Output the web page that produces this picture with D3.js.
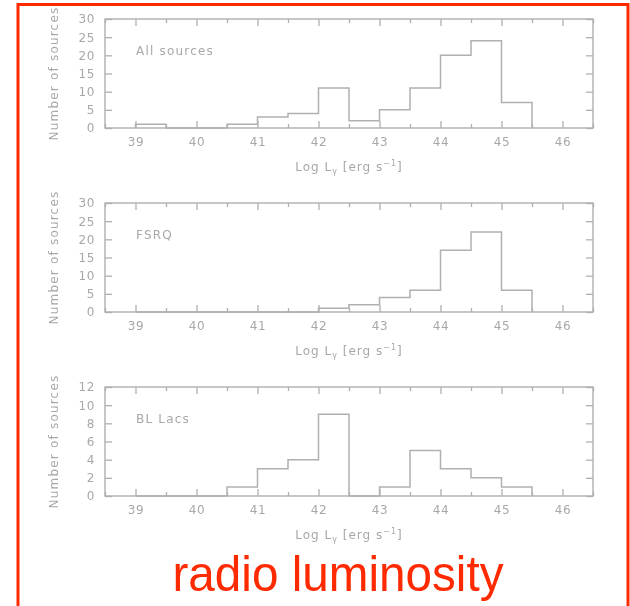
<!DOCTYPE html>
<html>
<head>
<meta charset="utf-8">
<script src="https://cdn.jsdelivr.net/npm/d3@7"></script>
<style>
  html, body { margin: 0; padding: 0; background: #fff; }
  svg { display: block; }
</style>
</head>
<body>
<svg id="chart" width="630" height="606"></svg>
<script>
// Histogram bins: left edges (log luminosity), 0.5 dex wide
const binStarts = [39, 39.5, 40, 40.5, 41, 41.5, 42, 42.5, 43, 43.5, 44, 44.5, 45];
const binWidth = 0.5;

// Source counts per bin
const allSources = [1, 0, 0, 1, 3, 4, 11, 2, 5, 11, 20, 24, 7];
const fsrq       = [0, 0, 0, 0, 0, 0, 1, 2, 4, 6, 17, 22, 6];
const blLacs     = [0, 0, 0, 1, 3, 4, 9, 0, 1, 5, 3, 2, 1];

// Axis ticks
const xMajorTicks = [39, 40, 41, 42, 43, 44, 45, 46];
const xMinorTicks = [38.5, 39.5, 40.5, 41.5, 42.5, 43.5, 44.5, 45.5, 46.5];
const yTicksWide  = [0, 5, 10, 15, 20, 25, 30];
const yTicksBL    = [0, 2, 4, 6, 8, 10, 12];

const panelLabels = ["All sources", "FSRQ", "BL Lacs"];
const panelSeries = [allSources, fsrq, blLacs];
const panelYMax   = [30, 30, 12];
const panelYTicks = [yTicksWide, yTicksWide, yTicksBL];

const caption = "radio luminosity";

const svg = d3.select("#chart");
const gray = "#b0b0b0";
const textGray = "#a8a8a8";

// soft rendering for the plotted figure
const defs = svg.append("defs");
defs.append("filter").attr("id", "soft")
  .append("feGaussianBlur").attr("stdDeviation", 0.6);

const fig = svg.append("g").attr("filter", "url(#soft)");

const plotLeft = 105, plotRight = 593;
const panelTop0 = 19, panelHeight = 109, panelStep = 184;

const x = d3.scaleLinear().domain([38.5, 46.5]).range([plotLeft, plotRight]);

panelSeries.forEach((counts, i) => {
  const top = panelTop0 + i * panelStep;
  const bottom = top + panelHeight;
  const y = d3.scaleLinear().domain([0, panelYMax[i]]).range([bottom, top]);
  const g = fig.append("g");

  const styleAxis = sel => {
    sel.select(".domain").remove();
    sel.selectAll("line").attr("stroke", gray).attr("stroke-width", 1.3);
    sel.selectAll("text").attr("fill", textGray)
      .attr("font-family", "DejaVu Sans, sans-serif")
      .attr("font-size", 12).attr("letter-spacing", 0.6);
  };

  // bottom axis with labels
  g.append("g").attr("transform", `translate(0,${bottom})`)
    .call(d3.axisBottom(x).tickValues(xMajorTicks).tickSizeInner(-7).tickSizeOuter(0)
      .tickPadding(9).tickFormat(d3.format("d")))
    .call(styleAxis);
  g.append("g").attr("transform", `translate(0,${bottom})`)
    .call(d3.axisBottom(x).tickValues(xMinorTicks).tickSizeInner(-4).tickSizeOuter(0).tickFormat(""))
    .call(styleAxis);
  // top axis ticks
  g.append("g").attr("transform", `translate(0,${top})`)
    .call(d3.axisTop(x).tickValues(xMajorTicks).tickSizeInner(-7).tickSizeOuter(0).tickFormat(""))
    .call(styleAxis);
  g.append("g").attr("transform", `translate(0,${top})`)
    .call(d3.axisTop(x).tickValues(xMinorTicks).tickSizeInner(-4).tickSizeOuter(0).tickFormat(""))
    .call(styleAxis);
  // left axis with labels
  g.append("g").attr("transform", `translate(${plotLeft},0)`)
    .call(d3.axisLeft(y).tickValues(panelYTicks[i]).tickSizeInner(-7).tickSizeOuter(0)
      .tickPadding(10).tickFormat(d3.format("d")))
    .call(styleAxis);
  // right axis ticks
  g.append("g").attr("transform", `translate(${plotRight},0)`)
    .call(d3.axisRight(y).tickValues(panelYTicks[i]).tickSizeInner(-7).tickSizeOuter(0).tickFormat(""))
    .call(styleAxis);

  // frame
  g.append("rect")
    .attr("x", plotLeft).attr("y", top)
    .attr("width", plotRight - plotLeft).attr("height", bottom - top)
    .attr("fill", "none").attr("stroke", gray).attr("stroke-width", 1.4);

  // histogram outline as a step path
  const pts = [[binStarts[0], 0]];
  counts.forEach((c, k) => {
    pts.push([binStarts[k], c]);
    pts.push([binStarts[k] + binWidth, c]);
  });
  pts.push([binStarts[binStarts.length - 1] + binWidth, 0]);
  g.append("path")
    .attr("d", d3.line().x(d => x(d[0])).y(d => y(d[1]))(pts))
    .attr("fill", "none").attr("stroke", gray).attr("stroke-width", 1.5);

  // panel label
  g.append("text")
    .attr("x", 136).attr("y", top + 36)
    .attr("fill", textGray).attr("font-family", "DejaVu Sans, sans-serif")
    .attr("font-size", 12).attr("letter-spacing", 1.2)
    .text(panelLabels[i]);

  // y-axis title
  g.append("text")
    .attr("transform", `translate(58,${(top + bottom) / 2}) rotate(-90)`)
    .attr("text-anchor", "middle")
    .attr("fill", textGray).attr("font-family", "DejaVu Sans, sans-serif")
    .attr("font-size", 12).attr("letter-spacing", 1.2)
    .text("Number of sources");

  // x-axis title
  const xt = g.append("text")
    .attr("x", (plotLeft + plotRight) / 2).attr("y", bottom + 43)
    .attr("text-anchor", "middle")
    .attr("fill", textGray).attr("font-family", "DejaVu Sans, sans-serif")
    .attr("font-size", 12).attr("letter-spacing", 1);
  xt.append("tspan").text("Log L");
  xt.append("tspan").attr("font-size", 8).attr("dy", 3).text("γ");
  xt.append("tspan").attr("dy", -3).text(" [erg s");
  xt.append("tspan").attr("font-size", 8).attr("dy", -5).text("−1");
  xt.append("tspan").attr("dy", 5).text("]");
});

// red frame (open at the bottom)
svg.append("path")
  .attr("d", "M18,606 V4.5 H628 V606")
  .attr("fill", "none").attr("stroke", "#ff2a00").attr("stroke-width", 3);

// caption
svg.append("text")
  .attr("x", 338).attr("y", 591)
  .attr("text-anchor", "middle")
  .attr("fill", "#ff2a00")
  .attr("font-family", "Liberation Sans, Arial, sans-serif")
  .attr("font-size", 50)
  .attr("textLength", 331).attr("lengthAdjust", "spacingAndGlyphs")
  .text(caption);
</script>
</body>
</html>
